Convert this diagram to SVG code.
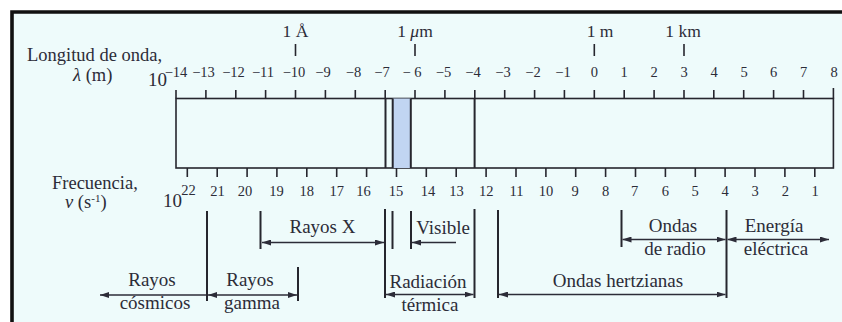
<svg xmlns="http://www.w3.org/2000/svg" width="842" height="322" viewBox="0 0 842 322">
<defs>
<style>
.t{font-family:"Liberation Serif","Times New Roman",serif;fill:#2c2c38}
.lab{font-size:19px}
.side{font-size:18.5px}
.num{font-size:14.5px}
.top{font-size:17.5px}
.ln{stroke:#26262e;stroke-width:1.6;fill:none}
.vb{stroke:#26262e;stroke-width:2;fill:none}
.ar{stroke:#2c2c38;stroke-width:1.3;fill:none}
.tk{stroke:#26262e;stroke-width:1.6}
</style>
<marker id="ah" viewBox="0 0 9 6" refX="9" refY="3" markerWidth="9" markerHeight="6" markerUnits="userSpaceOnUse" orient="auto-start-reverse">
<path d="M0,0 L9,3 L0,6 z" fill="#2c2c38"/>
</marker>
</defs>
<rect x="0" y="0" width="842" height="322" fill="#ffffff"/>
<g id="frame">
<rect x="12" y="12" width="830" height="310" fill="#eefbfb"/>
<path d="M12,322 V12 H842" stroke="#111" stroke-width="3.6" fill="none"/>
</g>
<g id="scale">
<rect x="176" y="98.5" width="657.4" height="69.5" fill="none" stroke="#26262e" stroke-width="1.6"/>
<rect x="392.7" y="98.5" width="18.1" height="69.5" fill="#c1d5f2"/>
<g class="vb">
<line x1="385.5" y1="98.5" x2="385.5" y2="168"/>
<line x1="392.7" y1="98.5" x2="392.7" y2="168"/>
<line x1="410.8" y1="98.5" x2="410.8" y2="168"/>
<line x1="474.6" y1="98.5" x2="474.6" y2="168"/>
</g>
<g class="tk">
<line x1="176" y1="90" x2="176" y2="98.5"/><line x1="205.9" y1="90" x2="205.9" y2="98.5"/><line x1="235.8" y1="90" x2="235.8" y2="98.5"/><line x1="265.6" y1="90" x2="265.6" y2="98.5"/><line x1="295.5" y1="90" x2="295.5" y2="98.5"/><line x1="325.4" y1="90" x2="325.4" y2="98.5"/><line x1="355.3" y1="90" x2="355.3" y2="98.5"/><line x1="385.2" y1="90" x2="385.2" y2="98.5"/><line x1="415" y1="90" x2="415" y2="98.5"/><line x1="444.9" y1="90" x2="444.9" y2="98.5"/><line x1="474.8" y1="90" x2="474.8" y2="98.5"/><line x1="504.7" y1="90" x2="504.7" y2="98.5"/><line x1="534.6" y1="90" x2="534.6" y2="98.5"/><line x1="564.4" y1="90" x2="564.4" y2="98.5"/><line x1="594.3" y1="90" x2="594.3" y2="98.5"/><line x1="624.2" y1="90" x2="624.2" y2="98.5"/><line x1="654.1" y1="90" x2="654.1" y2="98.5"/><line x1="684" y1="90" x2="684" y2="98.5"/><line x1="713.8" y1="90" x2="713.8" y2="98.5"/><line x1="743.7" y1="90" x2="743.7" y2="98.5"/><line x1="773.6" y1="90" x2="773.6" y2="98.5"/><line x1="803.5" y1="90" x2="803.5" y2="98.5"/><line x1="833.4" y1="88" x2="833.4" y2="98.5"/>
<line x1="187.3" y1="168" x2="187.3" y2="177"/><line x1="217.2" y1="168" x2="217.2" y2="177"/><line x1="247.1" y1="168" x2="247.1" y2="177"/><line x1="276.9" y1="168" x2="276.9" y2="177"/><line x1="306.8" y1="168" x2="306.8" y2="177"/><line x1="336.7" y1="168" x2="336.7" y2="177"/><line x1="366.6" y1="168" x2="366.6" y2="177"/><line x1="396.5" y1="168" x2="396.5" y2="177"/><line x1="426.3" y1="168" x2="426.3" y2="177"/><line x1="456.2" y1="168" x2="456.2" y2="177"/><line x1="486.1" y1="168" x2="486.1" y2="177"/><line x1="516" y1="168" x2="516" y2="177"/><line x1="545.9" y1="168" x2="545.9" y2="177"/><line x1="575.7" y1="168" x2="575.7" y2="177"/><line x1="605.6" y1="168" x2="605.6" y2="177"/><line x1="635.5" y1="168" x2="635.5" y2="177"/><line x1="665.4" y1="168" x2="665.4" y2="177"/><line x1="695.3" y1="168" x2="695.3" y2="177"/><line x1="725.1" y1="168" x2="725.1" y2="177"/><line x1="755" y1="168" x2="755" y2="177"/><line x1="784.9" y1="168" x2="784.9" y2="177"/><line x1="814.8" y1="168" x2="814.8" y2="177"/>
<line x1="295.5" y1="44" x2="295.5" y2="56"/><line x1="415" y1="44" x2="415" y2="56"/><line x1="594.3" y1="44" x2="594.3" y2="56"/><line x1="684" y1="44" x2="684" y2="56"/>
</g>
</g>
<g id="axis-labels" class="t">
<text class="side" x="27" y="61">Longitud de onda,</text>
<text class="side" x="73" y="81"><tspan font-style="italic">λ</tspan> (m)</text>
<text x="148" y="86" font-size="19">10</text>
<text class="side" x="52" y="189">Frecuencia,</text>
<text class="side" x="65" y="208"><tspan font-style="italic">ν</tspan> (s<tspan dy="-6" font-size="11">-1</tspan><tspan dy="6">)</tspan></text>
<text x="163" y="207" font-size="19">10</text>
<text class="top" x="295.5" y="37" text-anchor="middle">1 Å</text>
<text class="top" x="415" y="37" text-anchor="middle">1 <tspan font-style="italic">μ</tspan>m</text>
<text class="top" x="600" y="37" text-anchor="middle">1 m</text>
<text class="top" x="683" y="37" text-anchor="middle">1 km</text>
</g>
<g id="wavelength-numbers" class="t num" text-anchor="middle">
<text x="176" y="77">−14</text><text x="203.5" y="77">−13</text><text x="233.5" y="77">−12</text><text x="263" y="77">−11</text><text x="294" y="77">−10</text><text x="323" y="77">−9</text><text x="353.5" y="77">−8</text><text x="382" y="77">−7</text><text x="412" y="77">− 6</text><text x="443.5" y="77">−5</text><text x="473" y="77">−4</text><text x="503" y="77">−3</text><text x="533" y="77">−2</text><text x="563" y="77">−1</text><text x="594.3" y="77">0</text><text x="624" y="77">1</text><text x="654" y="77">2</text><text x="684" y="77">3</text><text x="714" y="77">4</text><text x="744" y="77">5</text><text x="773.6" y="77">6</text><text x="803.5" y="77">7</text><text x="834" y="77">8</text>
</g>
<g id="frequency-numbers" class="t num" text-anchor="middle">
<text x="188.5" y="195">22</text><text x="217.5" y="196">21</text><text x="245" y="196">20</text><text x="276.5" y="196">19</text><text x="306.8" y="196">18</text><text x="336.7" y="196">17</text><text x="363.5" y="196">16</text><text x="396" y="196">15</text><text x="428" y="196">14</text><text x="456.5" y="196">13</text><text x="486.3" y="196">12</text><text x="516.5" y="196">11</text><text x="546" y="196">10</text><text x="575" y="196">9</text><text x="605.5" y="196">8</text><text x="634.5" y="196">7</text><text x="665.3" y="196">6</text><text x="695" y="196">5</text><text x="725" y="196">4</text><text x="755" y="196">3</text><text x="785.3" y="196">2</text><text x="815" y="196">1</text>
</g>
<g id="boundaries" class="vb">
<line x1="207" y1="211" x2="207" y2="301"/>
<line x1="260.5" y1="211" x2="260.5" y2="249"/>
<line x1="298" y1="267" x2="298" y2="301"/>
<line x1="385" y1="209" x2="385" y2="298"/>
<line x1="392.5" y1="211" x2="392.5" y2="249"/>
<line x1="411" y1="211" x2="411" y2="249"/>
<line x1="474.5" y1="209" x2="474.5" y2="298"/>
<line x1="498" y1="210" x2="498" y2="298"/>
<line x1="621.5" y1="210" x2="621.5" y2="247"/>
<line x1="726.5" y1="210" x2="726.5" y2="298"/>
</g>
<g id="connectors" class="ar">
<line x1="262" y1="242.5" x2="384" y2="242.5" marker-start="url(#ah)" marker-end="url(#ah)"/>
<line x1="456" y1="242.5" x2="412" y2="242.5" marker-end="url(#ah)"/>
<line x1="622.5" y1="239.5" x2="725.5" y2="239.5" marker-start="url(#ah)" marker-end="url(#ah)"/>
<line x1="727.5" y1="239.5" x2="829" y2="239.5" marker-start="url(#ah)" marker-end="url(#ah)"/>
<line x1="206" y1="295" x2="100" y2="295" marker-end="url(#ah)"/>
<line x1="208" y1="295" x2="297" y2="295" marker-start="url(#ah)" marker-end="url(#ah)"/>
<line x1="386" y1="294.5" x2="473.5" y2="294.5" marker-start="url(#ah)" marker-end="url(#ah)"/>
<line x1="499" y1="294.5" x2="725.5" y2="294.5" marker-start="url(#ah)" marker-end="url(#ah)"/>
</g>
<g id="rayos-x" class="t lab" text-anchor="middle"><text x="322.5" y="233">Rayos X</text></g>
<g id="visible" class="t lab" text-anchor="middle"><text x="443" y="234">Visible</text></g>
<g id="ondas-radio" class="t lab" text-anchor="middle"><text x="673" y="232">Ondas</text><text x="675" y="255">de radio</text></g>
<g id="energia-electrica" class="t lab" text-anchor="middle"><text x="774" y="232">Energía</text><text x="776" y="255">eléctrica</text></g>
<g id="rayos-cosmicos" class="t lab" text-anchor="middle"><text x="152" y="286">Rayos</text><text x="155" y="309">cósmicos</text></g>
<g id="rayos-gamma" class="t lab" text-anchor="middle"><text x="250" y="286">Rayos</text><text x="252" y="309">gamma</text></g>
<g id="radiacion-termica" class="t lab" text-anchor="middle"><text x="428" y="288">Radiación</text><text x="430" y="311">térmica</text></g>
<g id="ondas-hertzianas" class="t lab" text-anchor="middle"><text x="618" y="287">Ondas hertzianas</text></g>
</svg>
